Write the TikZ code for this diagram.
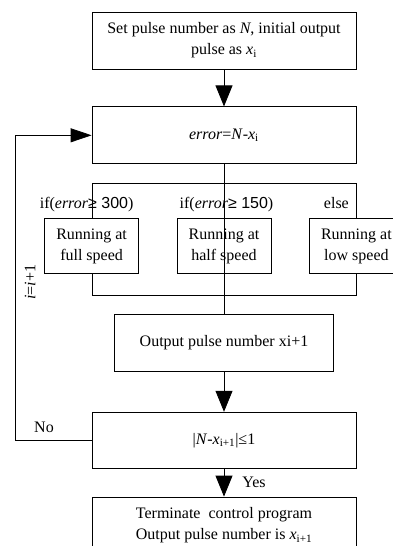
\documentclass[tikz,border=0pt]{standalone}
\usepackage{fontspec}
\setmainfont{Liberation Serif}
\setsansfont{Liberation Sans}
\usetikzlibrary{arrows.meta,positioning}
\newcommand{\sub}[1]{\textsubscript{#1}}

\begin{document}
\begin{tikzpicture}[x=1pt,y=1pt,
 box/.style={draw,line width=0.8pt,align=center,font=\fontsize{16}{21}\selectfont,minimum width=264pt,minimum height=57pt,inner sep=0pt},
 small/.style={box,fill=white,minimum width=94pt,minimum height=55pt},
 lbl/.style={font=\fontsize{16}{21}\selectfont,inner sep=0pt},
 arr/.style={-{Triangle[length=21pt,width=17pt]},line width=0.8pt}
]
\useasboundingbox (0,0) rectangle (393,-546);
\node[box] (init) at (224,-40.5) {Set pulse number as \textit{N}, initial output\\pulse as \textit{x}\sub{i}};
\node[box,below=37pt of init] (err) {\textit{error}=\textit{N}-\textit{x}\sub{i}};
\node[box,below=19pt of err,minimum height=112pt] (sel) {};
\node[small] (full) at ([yshift=-6.5pt]sel.west) {Running at\\full speed};
\node[small] (half) at ([yshift=-6.5pt]sel.center) {Running at\\half speed};
\node[small] (low) at ([yshift=-6.5pt]sel.east) {Running at\\low speed};
\node[box,below=18pt of sel,minimum width=219pt] (out) {Output pulse number xi+1};
\node[box,below=40pt of out,minimum height=56pt] (check) {|\textit{N}-\textit{x}\sub{i+1}|≤1};
\node[box,below=28pt of check] (stop) {Terminate \ control program\\Output pulse number is \textit{x}\sub{i+1}};
\draw[arr] (init)--(err);
\draw[line width=0.8pt] (err.south)--(out.north);
\node[lbl,anchor=base] (c1) at ([xshift=-5pt,yshift=10pt]full.north) {if(\textit{error}{\sffamily≥ 300})};
\node[lbl,anchor=base] (c2) at ([xshift=2.5pt,yshift=10pt]half.north) {if(\textit{error}{\sffamily≥ 150})};
\node[lbl,anchor=base] (c3) at ([xshift=-20pt,yshift=10pt]low.north) {else};
\draw[arr] (out)--(check);
\draw[arr] (check)--(stop) node[lbl,midway,right=18pt] (yes) {Yes};
\coordinate (back) at ([xshift=-76pt]check.west);
\draw[-{Triangle[length=21pt,width=14pt]},line width=0.8pt] (check.west)--(back) |- (err.west);
\node[lbl] (no) at (44,-427) {No};
\node[lbl,rotate=90] (inc) at (30,-282) {\textit{i}=\textit{i}+1};
\end{tikzpicture}
\end{document}
